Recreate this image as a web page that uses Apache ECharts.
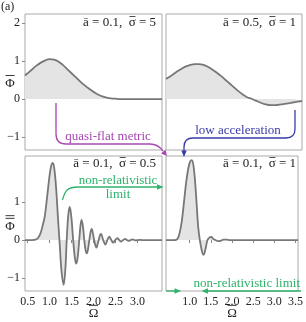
<!DOCTYPE html>
<html><head><meta charset="utf-8">
<script src="https://cdn.jsdelivr.net/npm/echarts@6/dist/echarts.min.js"></script>
<style>html,body{margin:0;padding:0;background:#fff}#c{width:306px;height:322px}</style>
</head><body><div id="c"></div>
<script>
// ---- data ----
const omegaTL = [0.44,0.6,0.7,0.8,0.9,1.0,1.1,1.2,1.3,1.4,1.5,1.6,1.7,1.8,1.9,2.0,2.1,2.2,2.3,2.4,2.5,2.6,3.0,3.56];
const phiTL   = [0.62,0.78,0.88,0.96,1.02,1.05,1.04,0.99,0.90,0.79,0.68,0.57,0.46,0.36,0.27,0.19,0.12,0.07,0.04,0.02,0.01,0.0,0.0,0.0];

const omegaTR = [0.44,0.6,0.7,0.8,0.9,1.0,1.1,1.2,1.3,1.4,1.5,1.6,1.7,1.8,1.9,2.0,2.1,2.2,2.3,2.4,2.5,2.6,2.7,2.8,2.9,3.0,3.1,3.2,3.3,3.4,3.56];
const phiTR   = [0.53,0.65,0.73,0.80,0.86,0.90,0.92,0.92,0.90,0.85,0.78,0.70,0.61,0.51,0.41,0.31,0.21,0.12,0.05,0.01,-0.04,-0.09,-0.13,-0.155,-0.16,-0.155,-0.14,-0.12,-0.10,-0.08,-0.05];

const omegaBL = [0.44,0.60,0.68,0.74,0.80,0.85,0.89,0.95,1.00,1.04,1.075,1.11,1.15,1.19,1.23,1.27,1.32,1.36,1.39,1.425,1.46,1.50,1.54,1.58,1.61,1.645,1.675,1.705,1.73,1.765,1.79,1.82,1.85,1.88,1.905,1.935,1.96,1.99,2.015,2.045,2.07,2.095,2.12,2.145,2.17,2.22,2.27,2.315,2.36,2.405,2.45,2.495,2.54,2.585,2.63,2.675,2.72,2.76,2.80,2.845,2.89,2.93,2.97,3.01,3.05,3.1,3.56];
const phiBL   = [0,0,0.01,0.06,0.2,0.42,0.62,1.2,1.7,1.97,2.03,1.85,1.35,0.6,-0.1,-0.8,-1.18,-0.75,0,0.65,0.87,0.55,-0.05,-0.5,-0.62,-0.4,0,0.4,0.53,0.3,0,-0.27,-0.35,-0.2,0,0.22,0.29,0.15,0,-0.15,-0.20,-0.1,0,0.12,0.16,0,-0.12,0,0.09,0,-0.07,0,0.05,0,-0.04,0,0.03,0,-0.02,0,0.015,0,-0.01,0,0.005,0,0];

const omegaBR = [0.44,0.65,0.70,0.74,0.78,0.82,0.87,0.92,0.97,1.01,1.05,1.09,1.13,1.17,1.20,1.24,1.29,1.33,1.37,1.42,1.47,1.51,1.56,1.61,1.67,1.73,1.8,1.87,1.95,3.56];
const phiBR   = [0,0,0.02,0.1,0.28,0.55,1.05,1.55,1.9,2.06,2.1,1.95,1.5,0.85,0.35,0,-0.3,-0.39,-0.25,0,0.07,0.08,0.03,0,-0.03,-0.02,0.01,0.01,0,0];

const yTicksTop = [-1,0,1,2];
const yTicksBottom = [-1,0,1];
const xTicksBL = [0.5,1.0,1.5,2.0,2.5,3.0];
const xTicksBR = [1.0,1.5,2.0,2.5,3.0,3.5];
// panel labels: a-bar and sigma-bar values
const panelA = ['0.1','0.5','0.1','0.1'];
const panelSigma = ['5','1','0.5','1'];

// ---- chart ----
const zip = (a,b) => a.map((v,i)=>[v,b[i]]);
const SERIF = '"Liberation Serif", "DejaVu Serif", serif';
const INK = '#222';
const grids = [
  {left:25, top:14, width:137, height:136},
  {left:166, top:14, width:136, height:136},
  {left:25, top:156, width:137, height:135},
  {left:166, top:156, width:136, height:135}
].map(g=>Object.assign(g,{show:true, borderColor:'#aaa', borderWidth:1, backgroundColor:'transparent'}));

// rich text for barred symbols (bar rows drawn as thin boxes)
const richBar = {
  b:{width:9, height:0.9, lineHeight:2.6, backgroundColor:INK, fontSize:1},
  p:{fontFamily:SERIF, fontSize:13, lineHeight:13, color:INK}
};
const fmtY = v => v<0 ? '\u2212'+Math.abs(v) : String(v);
function xAxis(i, ticks){
  const ax = {type:'value', gridIndex:i, min:0.44, max:3.56, splitLine:{show:false},
    axisLine:{show:false},
    axisTick:{show:!!ticks, customValues:ticks||[], length:3, inside:false, lineStyle:{color:'#888'}},
    axisLabel:{show:!!ticks, customValues:ticks||[], formatter:v=>v.toFixed(1), fontFamily:SERIF, fontSize:12, color:INK, margin:5}};
  if (ticks) Object.assign(ax, {name:'{b|\u00a0}\n{p|Ω}', nameLocation:'middle', nameGap:13, nameMoveOverlap:false,
    nameTextStyle:{align:'center', verticalAlign:'top', rich:richBar}});
  return ax;
}
function yAxis(i, min, max, ticks){
  return {type:'value', gridIndex:i, min:min, max:max, splitLine:{show:false},
    axisLine:{show:false},
    axisTick:{show:!!ticks, customValues:ticks||[], length:3, lineStyle:{color:'#888'}},
    axisLabel:{show:!!ticks, customValues:ticks||[], formatter:fmtY, fontFamily:SERIF, fontSize:12, color:INK, margin:5}};
}
// name-only axis carrying the Φ label
function nameAxis(i, min, max, nbars){
  let nm = '';
  for (let k=0;k<nbars;k++) nm += '{b|\u00a0}\n';
  nm += '{p|Φ}';
  return {type:'value', gridIndex:i, position:'left', min:min, max:max, splitLine:{show:false},
    axisLine:{show:false}, axisTick:{show:false}, axisLabel:{show:false},
    name:nm, nameLocation:'middle', nameRotate:0, nameGap:15, nameMoveOverlap:false,
    nameTextStyle:{align:'center', verticalAlign:'middle', rich:richBar}};
}
function ser(i, xs, ys){
  return {type:'line', xAxisIndex:i, yAxisIndex:i, data:zip(xs,ys), showSymbol:false, smooth:0.35,
    lineStyle:{color:'#777', width:1.8}, areaStyle:{color:'#e4e4e4', opacity:1}, z:2, silent:true};
}
const GREEN = '#2db36b', MAG = '#a646b0', BLUE = '#3a3aa8';
const ctx = document.createElement('canvas').getContext('2d');
function tw(s, size){ ctx.font = size+'px '+SERIF; return ctx.measureText(s).width; }
function L(x1,y1,x2,y2,c,w){return {type:'line', shape:{x1,y1,x2,y2}, style:{stroke:c, lineWidth:w||1.3}, z:100};}
function Q(x1,y1,cx,cy,x2,y2,c){return {type:'bezierCurve', shape:{x1,y1,cpx1:cx,cpy1:cy,x2,y2}, style:{stroke:c, fill:null, lineWidth:1.3}, z:100};}
function P(pts,c){return {type:'polygon', shape:{points:pts}, style:{fill:c}, z:101};}
function T(text,x,y,align,c,size){return {type:'text', x, y, style:{text, x:0, y:0, align, textAlign:align, verticalAlign:'middle', textVerticalAlign:'middle', font:(size||13)+'px '+SERIF, fill:c}, z:102};}

// panel label "ā = a,  σ̄ = s" right-aligned at xr, with a bar drawn over σ
function panelLabel(a, s, xr, y){
  const size = 13;
  const tail = ' = ' + s;
  const full = 'ā = ' + a + ',  σ' + tail;
  const wt = tw(tail,size), ws = tw('σ',size);
  const sx1 = xr - wt - ws, sx2 = xr - wt;
  return [T(full, xr, y, 'right', INK, size), L(sx1+0.8, y-6.5, sx2-0.2, y-6.5, INK, 0.8)];
}

const option = {
  animation:false,
  grid:grids,
  xAxis:[xAxis(0), xAxis(1), xAxis(2,xTicksBL), xAxis(3,xTicksBR)],
  yAxis:[yAxis(0,-1.34,2.24,yTicksTop), yAxis(1,-1.34,2.24), yAxis(2,-1.34,2.21,yTicksBottom), yAxis(3,-1.34,2.21),
         nameAxis(0,-1.34,2.24,1), nameAxis(2,-1.34,2.21,2)],
  series:[ser(0,omegaTL,phiTL), ser(1,omegaTR,phiTR), ser(2,omegaBL,phiBL), ser(3,omegaBR,phiBR)],
  graphic:[
    T('(a)',1,7,'left',INK,12),
    ...panelLabel(panelA[0],panelSigma[0],156,23),
    ...panelLabel(panelA[1],panelSigma[1],296,23),
    ...panelLabel(panelA[2],panelSigma[2],156,164),
    ...panelLabel(panelA[3],panelSigma[3],296,164),
    // quasi-flat metric
    L(56,103,56,134,MAG), Q(56,134,56,144,66,144,MAG), L(66,144,150,144,MAG), Q(150,144,158,144,163,151,MAG),
    P([[167,156],[161,153.5],[165.5,149.5]],MAG),
    T('quasi-flat metric',108,137,'center',MAG),
    // low acceleration
    L(295,110,295,129,BLUE), Q(295,129,295,138,286,138,BLUE), L(286,138,193,138,BLUE), Q(193,138,184,138,184,147,BLUE), L(184,147,184,151,BLUE),
    P([[184,157],[181.3,150.5],[186.7,150.5]],BLUE),
    T('low acceleration',238,131,'center',BLUE),
    // non-relativistic limit (bottom left)
    {type:'bezierCurve', shape:{x1:62.5,y1:200,cpx1:65,cpy1:190,cpx2:68,cpy2:187,x2:78,y2:187}, style:{stroke:GREEN, fill:null, lineWidth:1.3}, z:100},
    L(78,187,157,187,GREEN), P([[163.5,187],[157,184.3],[157,189.7]],GREEN),
    T('non-relativistic',118,181,'center',GREEN),
    T('limit',118,195,'center',GREEN),
    // non-relativistic limit (bottom right)
    L(166,291,175,291,GREEN), P([[181,291],[174.5,288.3],[174.5,293.7]],GREEN),
    L(207,291,301,291,GREEN), P([[201.5,291],[208,288.3],[208,293.7]],GREEN),
    T('non-relativistic limit',300,284,'right',GREEN)
  ]
};
const chart = echarts.init(document.getElementById('c'), null, {renderer:'canvas'});
chart.setOption(option);
</script>
</body></html>
